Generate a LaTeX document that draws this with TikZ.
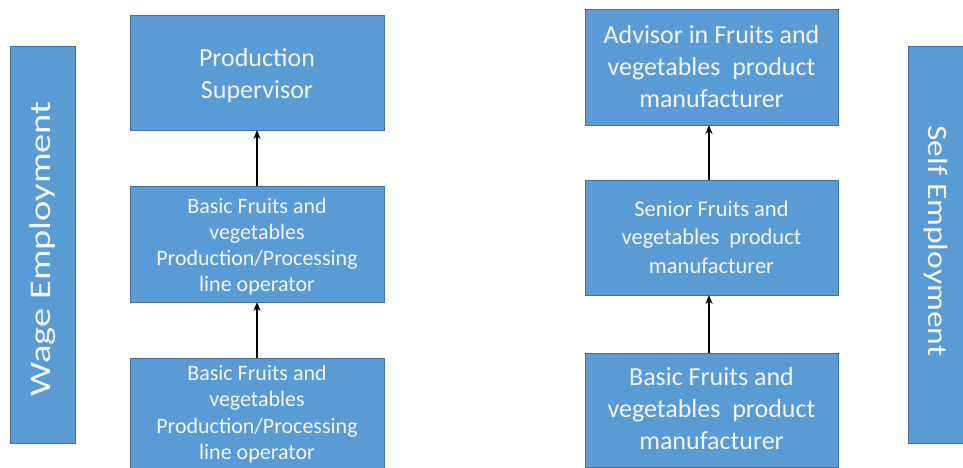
\documentclass[tikz,border=0pt]{standalone}
\usepackage{fontspec}
\setmainfont{Carlito}
\usetikzlibrary{arrows.meta}
\definecolor{boxfill}{HTML}{5B9BD5}
\definecolor{boxline}{HTML}{41719C}
\definecolor{boxtext}{HTML}{F2F6FB}
\tikzset{
  box/.style={draw=boxline, line width=0.9pt, fill=boxfill},
  lbl/.style={text=boxtext, align=center, inner sep=0pt},
  up/.style={-{Stealth[length=9pt,width=7pt]}, line width=1.8pt, black}
}
\begin{document}
\begin{tikzpicture}[x=1pt,y=-1pt]
\useasboundingbox (0,0) rectangle (963,468);
\clip (0,0) rectangle (963,468);
% side bars
\draw[box] (10,46) rectangle (75,443);
\node[lbl, rotate=90, font=\fontsize{30}{36}\selectfont] (wage) at (43,249) {\scalebox{1.28}[1]{Wage Employment}};
\draw[box] (908,46) rectangle (980,443);
\node[lbl, rotate=-90, font=\fontsize{28}{34}\selectfont] (self) at (936,241) {\scalebox{1.2}[1]{Self Employment}};
% left column
\draw[box] (130,15) rectangle (384,130);
\coordinate (l1b) at (257,130);
\node[lbl, font=\fontsize{26}{32}\selectfont] (l1) at (257,76) {Production\\Supervisor};
\draw[box] (130,186) rectangle (384,302);
\coordinate (l2t) at (257,186);
\coordinate (l2b) at (257,302);
\node[lbl, font=\fontsize{22}{26}\selectfont] (l2) at (257,247) {Basic Fruits and\\vegetables\\Production/Processing\\line operator};
\draw[box] (130,358) rectangle (384,474);
\coordinate (l3t) at (257,358);
\node[lbl, font=\fontsize{22}{26.5}\selectfont] (l3) at (257,414) {Basic Fruits and\\vegetables\\Production/Processing\\line operator};
% right column
\draw[box] (585,9) rectangle (838,125);
\coordinate (r1b) at (709,125);
\node[lbl, font=\fontsize{26}{32}\selectfont] (r1) at (711.5,67) {Advisor in Fruits and\\vegetables~ product\\manufacturer};
\draw[box] (585,180) rectangle (838,295);
\coordinate (r2t) at (709,180);
\coordinate (r2b) at (709,295);
\node[lbl, font=\fontsize{22.5}{28.5}\selectfont] (r2) at (711.5,237) {Senior Fruits and\\vegetables~ product\\manufacturer};
\draw[box] (585,353) rectangle (838,467);
\coordinate (r3t) at (709,353);
\node[lbl, font=\fontsize{26}{32}\selectfont] (r3) at (711.5,409) {Basic Fruits and\\vegetables~ product\\manufacturer};
% arrows
\draw[up] (l2t) -- (l1b);
\draw[up] (l3t) -- (l2b);
\draw[up] (r2t) -- (r1b);
\draw[up] (r3t) -- (r2b);
\end{tikzpicture}
\end{document}
